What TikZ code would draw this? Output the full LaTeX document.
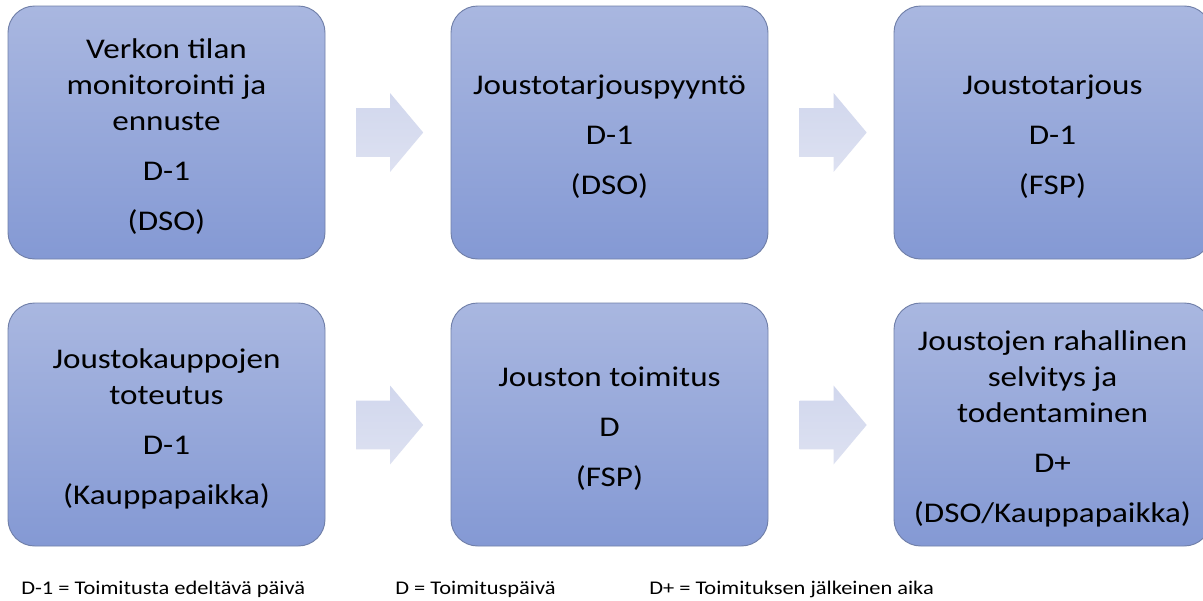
\documentclass[tikz,border=0pt]{standalone}
\usepackage{fontspec}
\setmainfont{Carlito}[FakeStretch=1.16]
\usetikzlibrary{shapes.arrows,calc}

\definecolor{boxtop}{HTML}{A9B7E0}
\definecolor{boxbot}{HTML}{8499D4}
\definecolor{boxline}{HTML}{7180A9}
\definecolor{arrtop}{HTML}{D1D7ED}
\definecolor{arrbot}{HTML}{DDE1F1}

% strut that lowers each block of box text a little
\newcommand{\firstline}{\rule{0pt}{21pt}}

\tikzset{
  stagebox/.style={rectangle, rounded corners=20pt, draw=boxline, line width=0.7pt,
    top color=boxtop, bottom color=boxbot, minimum width=237.75pt,
    inner sep=0pt, align=center, text=black,
    font=\fontsize{21.4pt}{27pt}\selectfont},
  toprow/.style={minimum height=189.75pt},
  botrow/.style={minimum height=182.25pt},
  flowarrow/.style={single arrow, draw=none, top color=arrtop, bottom color=arrbot,
    minimum height=50.25pt, inner sep=0pt,
    single arrow head extend=11.25pt, single arrow tip angle=100,
    single arrow head indent=0pt},
  legend/.style={anchor=base west, inner sep=0pt,
    font=\fontsize{14.5pt}{17pt}\selectfont, text=black}
}

\begin{document}
\begin{tikzpicture}[x=0.75pt, y=-0.75pt]
  \useasboundingbox (0,0) rectangle (1203,600);
  \fill[white] (0,0) rectangle (1203,600);

  % upper row of stages
  \node[stagebox, toprow] (b1) at (166.5,132.5)
    {\firstline Verkon tilan\\monitorointi ja\\ennuste\\[10.5pt]D-1\\[10.5pt](DSO)};
  \node[stagebox, toprow] (b2) at (609.5,132.5)
    {\firstline Joustotarjouspyyntö\\[10.5pt]D-1\\[10.5pt](DSO)};
  \node[stagebox, toprow] (b3) at (1052.5,132.5)
    {\firstline Joustotarjous\\[10.5pt]D-1\\[10.5pt](FSP)};

  % lower row of stages
  \node[stagebox, botrow] (b4) at (166.5,424.5)
    {\firstline Joustokauppojen\\toteutus\\[10.5pt]D-1\\[10.5pt](Kauppapaikka)};
  \node[stagebox, botrow] (b5) at (609.5,424.5)
    {\firstline Jouston toimitus\\[10.5pt]D\\[10.5pt](FSP)};
  \node[stagebox, botrow] (b6) at (1052.5,424.5)
    {\firstline Joustojen rahallinen\\selvitys ja\\todentaminen\\[10.5pt]D+\\[10.5pt](DSO/Kauppapaikka)};

  % block arrows between the stages (the rule sets the shaft thickness)
  \node[flowarrow] (a1) at ($(b1.east)!0.5!(b2.west)+(-8.5,0)$) {\rule{0pt}{36pt}};
  \node[flowarrow] (a2) at ($(b2.east)!0.5!(b3.west)+(-8,0)$) {\rule{0pt}{36pt}};
  \node[flowarrow] (a3) at ($(b4.east)!0.5!(b5.west)+(-8.5,0.5)$) {\rule{0pt}{36pt}};
  \node[flowarrow] (a4) at ($(b5.east)!0.5!(b6.west)+(-8,0.5)$) {\rule{0pt}{36pt}};

  % legend
  \node[legend] (l1) at (21,594) {D-1 = Toimitusta edeltävä päivä};
  \node[legend] (l2) at (395,594) {D = Toimituspäivä};
  \node[legend] (l3) at (649,594) {D+ = Toimituksen jälkeinen aika};
\end{tikzpicture}
\end{document}
